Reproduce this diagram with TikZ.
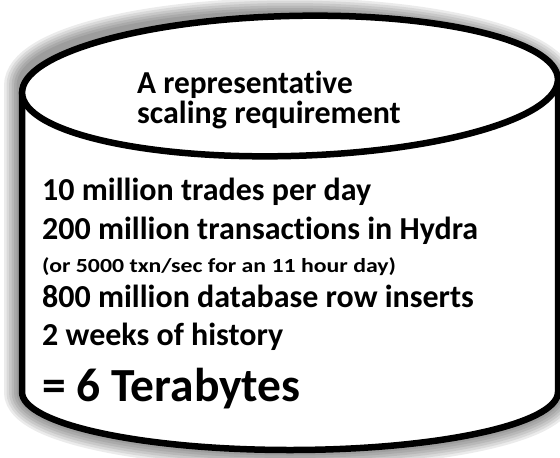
\documentclass[tikz,border=0pt]{standalone}
\usepackage{fontspec}
\setmainfont{Carlito}[Ligatures={NoCommon}]
\begin{document}
\begin{tikzpicture}[x=1pt,y=1pt,
  outline/.style={line width=6.5pt, draw=black, fill=white},
  glow/.style={draw=black, opacity=0.08},
  txt/.style={anchor=base west, inner sep=0pt, font=\bfseries\fontsize{32}{34}\selectfont},
  small/.style={anchor=base west, inner sep=0pt, font=\bfseries\fontsize{20}{22}\selectfont},
  big/.style={anchor=base west, inner sep=0pt, font=\bfseries\fontsize{47.5}{50}\selectfont}]
\useasboundingbox (0,0) rectangle (560,-458);
% soft shadow
\foreach \w in {36,31,26,21,16,11}{
  \draw[glow, line width=\w pt] (22,-86) -- (22,-392) arc[start angle=180, end angle=360, x radius=268, y radius=58] -- (558,-86) arc[start angle=0, end angle=180, x radius=268, y radius=70] -- cycle;
}
% body
\draw[outline] (22,-95) -- (22,-392) arc[start angle=180, end angle=360, x radius=268, y radius=58] -- (558,-80) -- cycle;
% top
\draw[outline, rotate around={1.5:(290,-86)}] (290,-86) ellipse[x radius=268, y radius=70];
% texts
\node[txt] (h1) at (137,-93) {\scalebox{0.98}[1]{A representative}};
\node[txt] (h2) at (137,-123) {scaling requirement};
\node[txt] (l1) at (42,-200) {10 million trades per day};
\node[txt] (l2) at (42,-239) {200 million transactions in Hydra};
\node[small] (l3) at (42,-272) {\scalebox{1.19}[1]{(or 5000 txn/sec for an 11 hour day)}};
\node[txt] (l4) at (42,-307) {800 million database row inserts};
\node[txt] (l5) at (42,-345) {2 weeks of history};
\node[big] (l6) at (42,-401) {= 6 Terabytes};
\end{tikzpicture}
\end{document}
